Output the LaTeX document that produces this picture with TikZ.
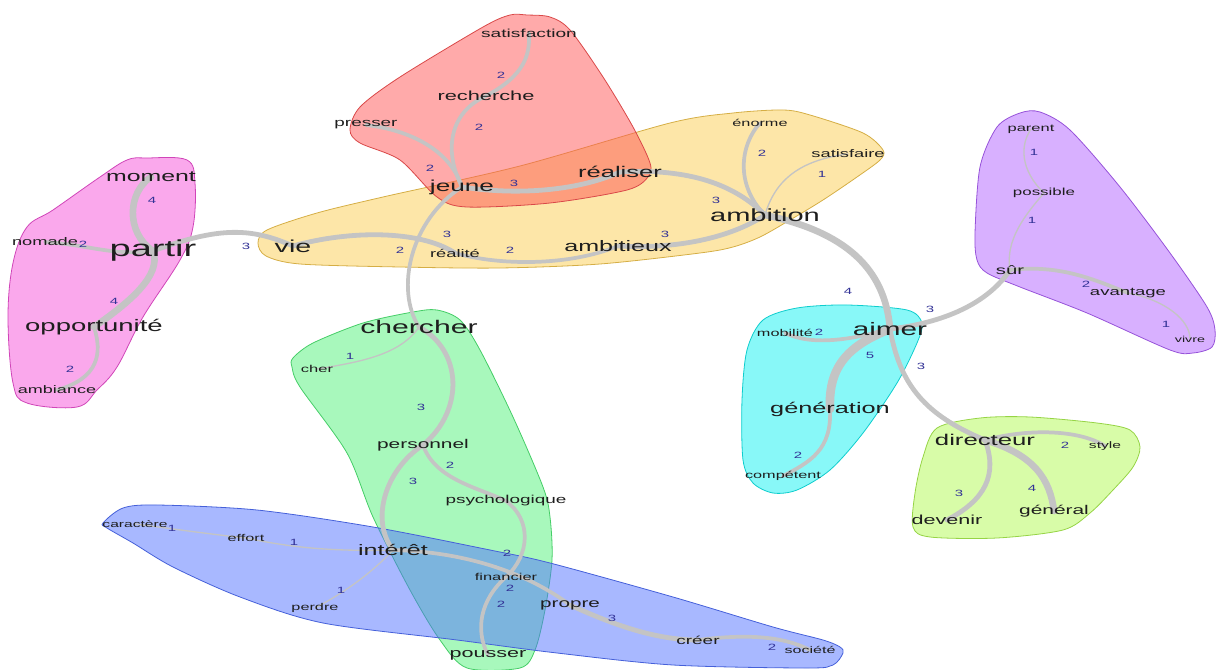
\documentclass[tikz,border=0pt]{standalone}
\usepackage{fontspec}
\newfontfamily\wfont[FakeStretch=1.65]{Liberation Sans}
\pgfdeclarelayer{halos}
\pgfdeclarelayer{edges}
\pgfsetlayers{halos,edges,main}
\definecolor{linegray}{RGB}{196,196,196}
\definecolor{wtcol}{RGB}{50,50,150}
\definecolor{wordcol}{RGB}{30,30,30}
\definecolor{hpink}{RGB}{245,81,217}
\definecolor{hred}{RGB}{255,85,85}
\definecolor{hyellow}{RGB}{251,205,81}
\definecolor{hpurple}{RGB}{177,97,255}
\definecolor{hcyan}{RGB}{17,241,241}
\definecolor{hlime}{RGB}{177,249,81}
\definecolor{hgreen}{RGB}{81,241,121}
\definecolor{hblue}{RGB}{81,113,255}
\tikzset{
  word/.style={font=\wfont\fontsize{#1}{#1}\selectfont, text=wordcol, inner sep=0pt},
  wt/.style={font=\wfont\fontsize{6.8}{6.8}\selectfont, text=wtcol, inner sep=0pt},
  edge/.style={draw=linegray, line width=#1, line cap=round},
  halo/.style={fill=#1, fill opacity=0.5, draw=#1!85!black, line width=0.6pt}
}
\begin{document}
\begin{tikzpicture}[x=0.75pt, y=-0.75pt]
\useasboundingbox (0,0) rectangle (1216,670);

\node[word=8.7] (satisfaction) at (529,33) {satisfaction};
\node[word=9.9] (recherche) at (486,96) {recherche};
\node[word=8.6] (presser) at (366,125) {presser};
\node[word=11.9] (jeune) at (462,187) {jeune};
\node[word=11.6] (realiser) at (620,172) {réaliser};
\node[word=7.4] (enorme) at (760,123) {énorme};
\node[word=8.3] (satisfaire) at (848,154) {satisfaire};
\node[word=13.2] (ambition) at (765,215) {ambition};
\node[word=13] (vie) at (293,246) {vie};
\node[word=8.3] (realite) at (455,253) {réalité};
\node[word=11.4] (ambitieux) at (618,246) {ambitieux};
\node[word=11.3] (moment) at (151,177) {moment};
\node[word=17.3] (partir) at (153,251) {partir};
\node[word=8.3] (nomade) at (45,242) {nomade};
\node[word=12.5] (opportunite) at (94,327) {opportunité};
\node[word=8.2] (ambiance) at (57,390) {ambiance};
\node[word=7.5] (parent) at (1031,129) {parent};
\node[word=7.7] (possible) at (1044,193) {possible};
\node[word=9.2] (sur) at (1010,270) {sûr};
\node[word=8.4] (avantage) at (1128,293) {avantage};
\node[word=6.5] (vivre) at (1190,339) {vivre};
\node[word=13.5] (aimer) at (890,329) {aimer};
\node[word=7.4] (mobilite) at (785,333) {mobilité};
\node[word=11.5] (generation) at (830,409) {génération};
\node[word=7.4] (competent) at (783,476) {compétent};
\node[word=11.7] (directeur) at (985,440) {directeur};
\node[word=7.1] (style) at (1105,446) {style};
\node[word=9.8] (devenir) at (947,520) {devenir};
\node[word=9.5] (general) at (1054,511) {général};
\node[word=13.7] (chercher) at (419,327) {chercher};
\node[word=7.5] (cher) at (317,369) {cher};
\node[word=9.5] (personnel) at (423,445) {personnel};
\node[word=8.6] (psychologique) at (506,501) {psychologique};
\node[word=11.4] (interet) at (393,550) {intérêt};
\node[word=7.1] (caractere) at (135,524) {caractère};
\node[word=7.4] (effort) at (246,538) {effort};
\node[word=7.4] (perdre) at (315,608) {perdre};
\node[word=7.5] (financier) at (506,577) {financier};
\node[word=9.4] (propre) at (570,605) {propre};
\node[word=8.6] (creer) at (698,640) {créer};
\node[word=7.3] (societe) at (810,650) {société};
\node[word=9.8] (pousser) at (488,655) {pousser};

\node[wt] (k1) at (152,200) {4};
\node[wt] (k2) at (83,244) {2};
\node[wt] (k3) at (114,301) {4};
\node[wt] (k4) at (70,369) {2};
\node[wt] (k5) at (246,246) {3};
\node[wt] (k6) at (447,234) {3};
\node[wt] (k7) at (510,250) {2};
\node[wt] (k8) at (400,250) {2};
\node[wt] (k9) at (430,168) {2};
\node[wt] (k10) at (479,127) {2};
\node[wt] (k11) at (501,75) {2};
\node[wt] (k12) at (514,183) {3};
\node[wt] (k13) at (716,200) {3};
\node[wt] (k14) at (665,234) {3};
\node[wt] (k15) at (762,153) {2};
\node[wt] (k16) at (822,174) {1};
\node[wt] (k17) at (848,291) {4};
\node[wt] (k18) at (930,309) {3};
\node[wt] (k19) at (1032,220) {1};
\node[wt] (k20) at (1034,152) {1};
\node[wt] (k21) at (1086,284) {2};
\node[wt] (k22) at (1166,324) {1};
\node[wt] (k23) at (819,332) {2};
\node[wt] (k24) at (870,355) {5};
\node[wt] (k25) at (798,455) {2};
\node[wt] (k26) at (921,366) {3};
\node[wt] (k27) at (1065,445) {2};
\node[wt] (k28) at (959,493) {3};
\node[wt] (k29) at (1032,488) {4};
\node[wt] (k30) at (350,356) {1};
\node[wt] (k31) at (421,407) {3};
\node[wt] (k32) at (413,481) {3};
\node[wt] (k33) at (450,465) {2};
\node[wt] (k34) at (507,553) {2};
\node[wt] (k35) at (510,588) {2};
\node[wt] (k36) at (501,604) {2};
\node[wt] (k37) at (612,618) {3};
\node[wt] (k38) at (772,647) {2};
\node[wt] (k39) at (294,542) {1};
\node[wt] (k40) at (172,528) {1};
\node[wt] (k41) at (341,590) {1};

\begin{pgfonlayer}{halos}
\path[halo=hpink] plot[smooth cycle, tension=0.6] coordinates {(147,158) (187,160) (195,183) (193,227) (180,260) (143,317) (117,367) (97,390) (77,407) (27,403) (13,383) (8,317) (13,263) (27,227) (53,210) (100,177) (127,160)};
\path[halo=hyellow] plot[smooth cycle, tension=0.5] coordinates {(258,243) (267,230) (317,213) (383,197) (520,166) (670,123) (733,113) (783,110) (810,115) (863,133) (883,150) (880,160) (857,177) (823,200) (790,220) (760,237) (733,247) (700,253) (600,264) (500,268) (400,267) (300,264) (266,256)};
\path[halo=hred] plot[smooth cycle, tension=0.5] coordinates {(527,15) (550,17) (570,30) (603,77) (633,127) (650,163) (648,177) (627,190) (550,203) (467,207) (437,197) (400,160) (360,143) (350,130) (360,107) (400,77) (483,27) (510,15)};
\path[halo=hpurple] plot[smooth cycle, tension=0.5] coordinates {(1020,113) (1040,112) (1070,130) (1120,187) (1170,253) (1207,307) (1215,330) (1212,347) (1193,353) (1170,350) (1087,313) (1020,287) (987,273) (977,260) (975,233) (980,167) (997,127)};
\path[halo=hcyan] plot[smooth cycle, tension=0.5] coordinates {(763,320) (797,308) (847,305) (907,310) (922,323) (917,343) (897,383) (863,433) (830,470) (797,490) (773,493) (753,483) (743,460) (742,400) (747,350)};
\path[halo=hlime] plot[smooth cycle, tension=0.5] coordinates {(937,428) (980,418) (1030,417) (1097,423) (1130,430) (1140,447) (1133,467) (1113,490) (1090,513) (1063,530) (997,538) (930,537) (913,527) (915,493) (923,457)};
\path[halo=hgreen] plot[smooth cycle, tension=0.5] coordinates {(413,312) (437,310) (460,320) (480,350) (513,417) (543,487) (550,517) (552,560) (545,610) (535,650) (520,668) (467,668) (440,640) (410,590) (373,517) (347,453) (300,387) (292,367) (293,358) (313,343) (363,323)};
\path[halo=hblue] plot[smooth cycle, tension=0.5] coordinates {(103,523) (123,508) (157,505) (257,510) (373,527) (490,550) (550,563) (673,597) (773,627) (823,640) (840,647) (843,653) (833,665) (807,668) (673,665) (557,653) (457,640) (323,623) (240,597) (173,567) (133,543) (107,528)};
\end{pgfonlayer}

\begin{pgfonlayer}{edges}
\draw[edge=5pt] (moment.center) .. controls (128,192) and (125,232) .. (partir.center);
\draw[edge=5pt] (partir.center) .. controls (162,275) and (130,302) .. (opportunite.center);
\draw[edge=2.8pt] (opportunite.center) .. controls (102,352) and (100,378) .. (ambiance.center);
\draw[edge=2.8pt] (nomade.center) .. controls (90,245) and (112,256) .. (partir.center);
\draw[edge=3.6pt] (partir.center) .. controls (220,226) and (252,228) .. (vie.center);
\draw[edge=3.6pt] (vie.center) .. controls (350,230) and (420,230) .. (realite.center);
\draw[edge=2.8pt] (realite.center) .. controls (500,266) and (570,266) .. (ambitieux.center);
\draw[edge=2.8pt] (jeune.center) .. controls (410,220) and (395,290) .. (chercher.center);
\draw[edge=2.8pt] (jeune.center) .. controls (450,150) and (410,130) .. (presser.center);
\draw[edge=2.8pt] (jeune.center) .. controls (443,150) and (450,112) .. (recherche.center);
\draw[edge=2.8pt] (recherche.center) .. controls (525,75) and (530,55) .. (satisfaction.center);
\draw[edge=3.6pt] (jeune.center) .. controls (520,196) and (580,190) .. (realiser.center);
\draw[edge=3.6pt] (realiser.center) .. controls (690,168) and (735,185) .. (ambition.center);
\draw[edge=3.6pt] (ambitieux.center) .. controls (690,250) and (740,232) .. (ambition.center);
\draw[edge=2.8pt] (ambition.center) .. controls (735,185) and (740,145) .. (enorme.center);
\draw[edge=1pt] (ambition.center) .. controls (775,180) and (800,160) .. (satisfaire.center);
\draw[edge=5pt] (ambition.center) .. controls (845,232) and (885,268) .. (aimer.center);
\draw[edge=3.6pt] (aimer.center) .. controls (950,322) and (990,300) .. (sur.center);
\draw[edge=1pt] (sur.center) .. controls (1005,240) and (1025,215) .. (possible.center);
\draw[edge=1pt] (possible.center) .. controls (1020,170) and (1020,145) .. (parent.center);
\draw[edge=2.8pt] (sur.center) .. controls (1060,264) and (1095,280) .. (avantage.center);
\draw[edge=1pt] (avantage.center) .. controls (1165,300) and (1190,320) .. (vivre.center);
\draw[edge=2.8pt] (aimer.center) .. controls (850,340) and (812,346) .. (mobilite.center);
\draw[edge=6.5pt] (aimer.center) .. controls (850,345) and (828,365) .. (generation.center);
\draw[edge=2.8pt] (generation.center) .. controls (832,450) and (810,462) .. (competent.center);
\draw[edge=3.6pt] (aimer.center) .. controls (900,385) and (925,415) .. (directeur.center);
\draw[edge=2.8pt] (directeur.center) .. controls (1030,428) and (1080,430) .. (style.center);
\draw[edge=3.6pt] (directeur.center) .. controls (998,475) and (985,500) .. (devenir.center);
\draw[edge=5pt] (directeur.center) .. controls (1035,455) and (1050,480) .. (general.center);
\draw[edge=1pt] (chercher.center) .. controls (400,355) and (360,362) .. (cher.center);
\draw[edge=3.6pt] (chercher.center) .. controls (462,350) and (465,410) .. (personnel.center);
\draw[edge=3.6pt] (personnel.center) .. controls (385,470) and (370,520) .. (interet.center);
\draw[edge=2.8pt] (personnel.center) .. controls (435,480) and (480,488) .. (psychologique.center);
\draw[edge=2.8pt] (psychologique.center) .. controls (532,520) and (530,555) .. (financier.center);
\draw[edge=2.8pt] (financier.center) .. controls (480,600) and (475,630) .. (pousser.center);
\draw[edge=2.8pt] (interet.center) .. controls (470,552) and (530,575) .. (propre.center);
\draw[edge=3.6pt] (propre.center) .. controls (620,628) and (660,640) .. (creer.center);
\draw[edge=2.8pt] (creer.center) .. controls (760,632) and (790,640) .. (societe.center);
\draw[edge=1pt] (interet.center) .. controls (320,552) and (280,545) .. (effort.center);
\draw[edge=1pt] (effort.center) .. controls (200,533) and (160,527) .. (caractere.center);
\draw[edge=1pt] (interet.center) .. controls (370,575) and (340,595) .. (perdre.center);
\end{pgfonlayer}
\end{tikzpicture}
\end{document}
